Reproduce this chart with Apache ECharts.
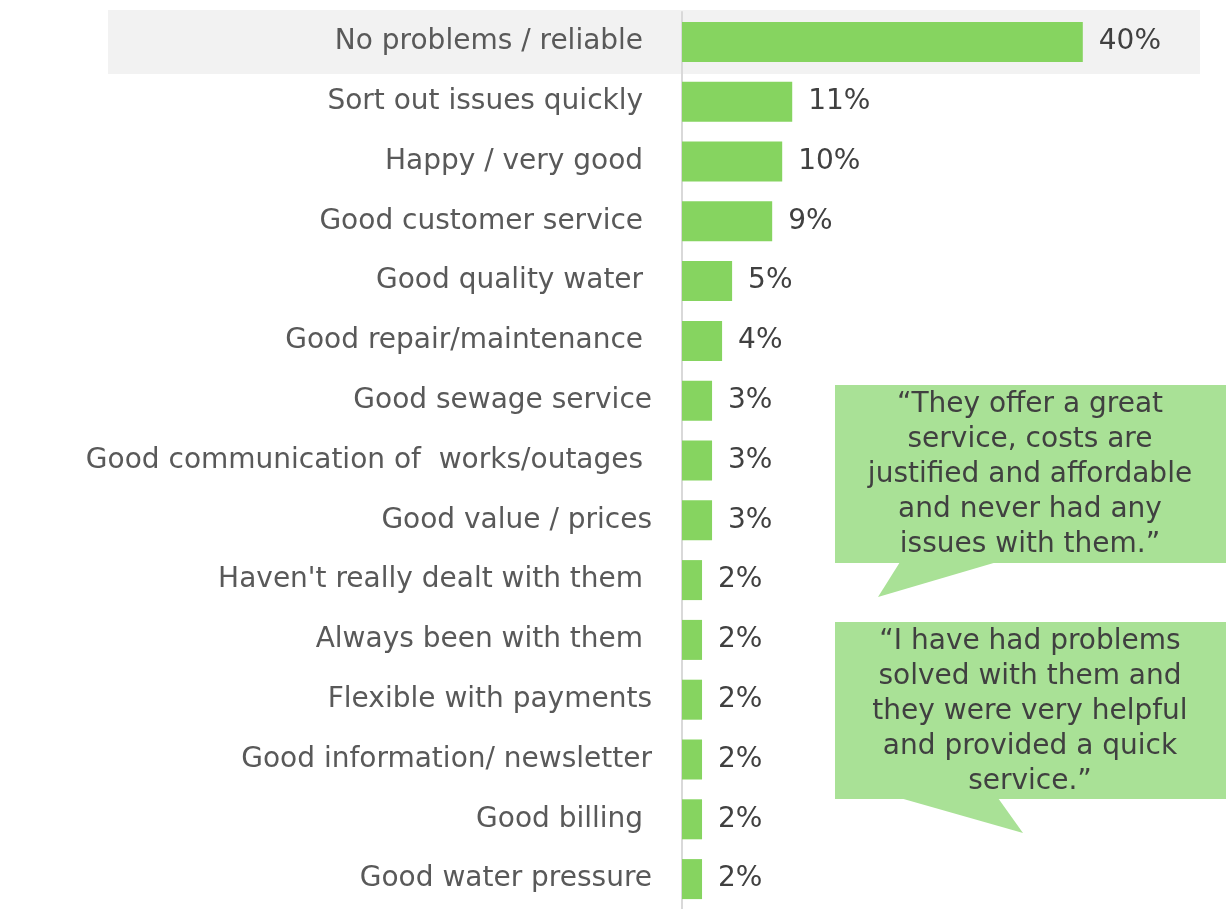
<!DOCTYPE html>
<html lang="en">
<head>
    <meta charset="UTF-8">
    <script src="https://cdn.jsdelivr.net/npm/echarts@6/dist/echarts.min.js"></script>
    <title>Reasons</title>
</head>
<body>
<style>
    html, body, #main {
        width: 100%;
        height: 100%;
        margin: 0;
        background: #fff;
    }
</style>
<div id='main'></div>
<script>
    // categories top to bottom (trailing spaces kept as in the source labels)
    var categories = [
        'No problems / reliable ',
        'Sort out issues quickly ',
        'Happy / very good ',
        'Good customer service ',
        'Good quality water ',
        'Good repair/maintenance ',
        'Good sewage service',
        'Good communication of  works/outages ',
        'Good value / prices',
        "Haven't really dealt with them ",
        'Always been with them ',
        'Flexible with payments',
        'Good information/ newsletter',
        'Good billing ',
        'Good water pressure'
    ];
    var values = [40, 11, 10, 9, 5, 4, 3, 3, 3, 2, 2, 2, 2, 2, 2];
    var highlighted = [0];

    var quote1 = '\u201cThey offer a great\nservice, costs are\njustified and affordable\nand never had any\nissues with them.\u201d';
    var quote2 = '\u201cI have had problems\nsolved with them and\nthey were very helpful\nand provided a quick\nservice.\u201d';

    var fontName = 'DejaVu Sans';
    var barColor = '#86d460';
    var bubbleColor = '#a9e196';

    var chart = echarts.init(document.getElementById('main'));

    var option = {
        animation: false,
        textStyle: {fontFamily: fontName},
        grid: {left: 682, top: 12, width: 501, height: 900},
        xAxis: {
            type: 'value',
            min: 0,
            max: 50,
            show: false
        },
        yAxis: {
            type: 'category',
            inverse: true,
            data: categories,
            axisLine: {show: true, lineStyle: {color: '#d9d9d9', width: 2}},
            axisTick: {show: false},
            splitLine: {show: false},
            axisLabel: {
                color: '#595959',
                fontSize: 28,
                fontFamily: fontName,
                margin: 30
            }
        },
        series: [
            { // grey band behind highlighted row
                type: 'custom',
                silent: true,
                z: 0,
                data: highlighted,
                encode: {y: 0},
                renderItem: function (params, api) {
                    var c = api.coord([0, api.value(0)]);
                    return {
                        type: 'rect',
                        shape: {x: 108, y: c[1] - 32, width: 1092, height: 64},
                        style: {fill: '#f2f2f2'}
                    };
                }
            },
            {
                type: 'bar',
                z: 2,
                data: values,
                barWidth: 40,
                itemStyle: {color: barColor},
                label: {
                    show: true,
                    position: 'right',
                    distance: 16,
                    formatter: '{c}%',
                    color: '#404040',
                    fontSize: 28,
                    fontFamily: fontName
                }
            }
        ],
        graphic: [
            {
                type: 'group',
                children: [
                    {type: 'rect', shape: {x: 835, y: 385, width: 391, height: 178}, style: {fill: bubbleColor}},
                    {type: 'polygon', shape: {points: [[900, 562], [997, 562], [878, 597]]}, style: {fill: bubbleColor}},
                    {
                        type: 'text', x: 1030, y: 475,
                        style: {
                            text: quote1, align: 'center', verticalAlign: 'middle',
                            font: '28px "' + fontName + '"', lineHeight: 35, fill: '#404040'
                        }
                    }
                ]
            },
            {
                type: 'group',
                children: [
                    {type: 'rect', shape: {x: 835, y: 622, width: 391, height: 177}, style: {fill: bubbleColor}},
                    {type: 'polygon', shape: {points: [[900, 798], [998, 798], [1023, 833]]}, style: {fill: bubbleColor}},
                    {
                        type: 'text', x: 1030, y: 712,
                        style: {
                            text: quote2, align: 'center', verticalAlign: 'middle',
                            font: '28px "' + fontName + '"', lineHeight: 35, fill: '#404040'
                        }
                    }
                ]
            }
        ]
    };

    chart.setOption(option);
    window.onresize = chart.resize;
</script>
</body>
</html>
